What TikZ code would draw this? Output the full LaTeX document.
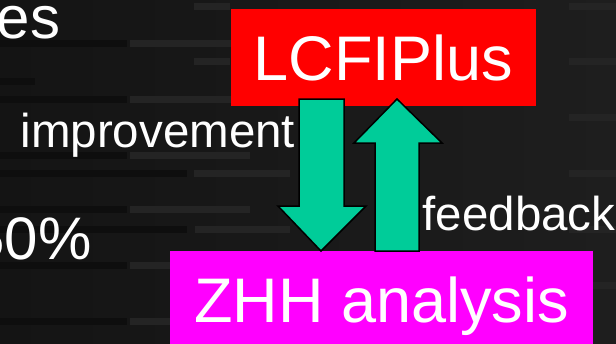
\documentclass[tikz,border=0pt]{standalone}
\usepackage{fontspec}
\setmainfont{Liberation Sans}
\definecolor{arrowgreen}{HTML}{00CC99}
\definecolor{bgdark}{HTML}{141414}
\definecolor{bglight}{HTML}{1E1E1E}
\definecolor{barlight}{HTML}{242424}
\definecolor{bardark}{HTML}{0E0E0E}
\definecolor{zhhmagenta}{HTML}{FF00FF}
\begin{document}
\begin{tikzpicture}[x=1pt,y=-1pt,
  titlebox/.style={inner sep=0pt, text=white, font=\fontsize{63}{63}\selectfont,
    text height=45.1pt, text depth=0pt, minimum height=97pt},
  sidelabel/.style={inner sep=0pt, text=white, anchor=base west, font=\fontsize{47.5}{47.5}\selectfont},
  bigtext/.style={inner sep=0pt, text=white, anchor=base west, font=\fontsize{60}{60}\selectfont},
  blockarrow/.style={fill=arrowgreen, draw=black, line width=1.5pt, line join=miter},
  lbar/.style={fill=barlight},
  dbar/.style={fill=bardark}]
\useasboundingbox (0,0) rectangle (616,343);
% background
\shade[left color=bgdark, right color=bglight] (0,0) rectangle (616,343);
\foreach \yy in {40,96,152,206,262,318}{
  \fill[dbar] (0,\yy) rectangle (127,\yy+7);
  \fill[lbar] (130,\yy) rectangle (250,\yy+7);
}
\foreach \yy in {170,226}{
  \fill[dbar] (0,\yy) rectangle (187,\yy+7);
  \fill[lbar] (195,\yy) rectangle (290,\yy+7);
}
\fill[dbar] (0,78) rectangle (35,85);
\foreach \yy in {3,58,114,170,226,282}{
  \fill[lbar] (569,\yy) rectangle (616,\yy+7);
}
\foreach \yy in {3,58,170}{
  \fill[lbar] (194,\yy) rectangle (230,\yy+7);
}
% boxes
\node[titlebox, fill=red, minimum width=305pt] (lcfi) at (383.5,57.5) {LCFIPlus};
\node[titlebox, fill=zhhmagenta, minimum width=423pt] (zhh) at (381.5,299.5) {ZHH analysis};
% block arrows
\coordinate (downtip) at (321,251);
\coordinate (uptip) at (397,99);
\draw[blockarrow] (299,99) -- (344,99) -- (344,206) -- (366,206) -- (downtip) -- (278,206) -- (299,206) -- cycle;
\draw[blockarrow] (375,251) -- (375,143) -- (354,143) -- (uptip) -- (442,143) -- (419,143) -- (419,251) -- cycle;
% labels
\node[sidelabel] (impr) at (20.4,147) {improvement};
\node[sidelabel] (feed) at (422.5,230) {feedback};
\node[bigtext] (es) at (-3.4,38) {es};
\node[bigtext] (pct) at (-28.9,259) {50\%};
\end{tikzpicture}
\end{document}
